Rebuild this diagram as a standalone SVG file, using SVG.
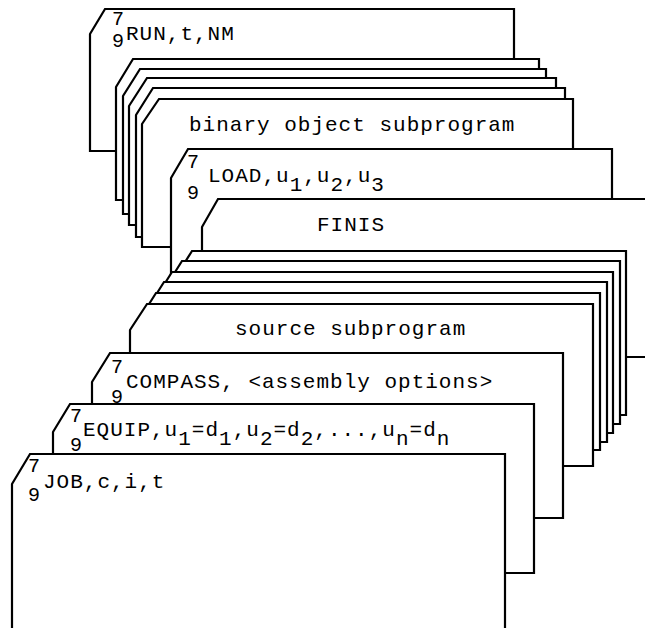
<svg xmlns="http://www.w3.org/2000/svg" width="645" height="628" viewBox="0 0 645 628">
<style>
.card{fill:#fff;stroke:#000;stroke-width:2.2;stroke-linejoin:miter}
text{font-family:"Liberation Mono","DejaVu Sans Mono",monospace;font-size:21px;letter-spacing:1px;fill:#000}
.d{font-size:20px}
</style>
<rect width="645" height="628" fill="#fff"/>
<g id="card-run">
<path class="card" d="M90,151 L90,34 L105,9 L514,9 L514,151 Z"/>
<text class="d" x="112" y="25">7</text><text class="d" x="112" y="47">9</text>
<text x="126" y="40">RUN,t,NM</text>
</g>
<g id="binary-deck">
<path class="card" d="M116,200 L116,87 L133,59 L539,59 L539,200 Z"/>
<path class="card" d="M123,214 L123,96 L140,69 L546,69 L546,214 Z"/>
<path class="card" d="M129,225 L129,106 L147,78 L556,78 L556,225 Z"/>
<path class="card" d="M136,237 L136,115 L153,88 L565,88 L565,237 Z"/>
<path class="card" d="M142,247 L142,124 L159,99 L573,99 L573,247 Z"/>
<text x="189" y="131">binary object subprogram</text>
</g>
<g id="card-load">
<path class="card" d="M171,320 L171,178 L188,149 L612,149 L612,320 Z"/>
<text class="d" x="187" y="168">7</text><text class="d" x="187" y="199">9</text>
<text x="208" y="182">LOAD,u<tspan dy="9">1</tspan><tspan dy="-9">,u</tspan><tspan dy="9">2</tspan><tspan dy="-9">,u</tspan><tspan dy="9">3</tspan></text>
</g>
<g id="card-finis">
<path class="card" d="M202,357 L202,227 L218,199 L660,199 L660,357 Z"/>
<text x="317" y="231">FINIS</text>
</g>
<g id="source-deck">
<path class="card" d="M175,415 L175,278 L192,251 L626,251 L626,415 Z"/>
<path class="card" d="M165,424 L165,288 L182,261 L620,261 L620,424 Z"/>
<path class="card" d="M155,433 L155,299 L172,272 L613,272 L613,433 Z"/>
<path class="card" d="M147,442 L147,309 L164,282 L607,282 L607,442 Z"/>
<path class="card" d="M139,450 L139,320 L156,293 L600,293 L600,450 Z"/>
<path class="card" d="M130,466 L130,330 L147,304 L593,304 L593,466 Z"/>
<text x="235" y="335">source subprogram</text>
</g>
<g id="card-compass">
<path class="card" d="M92,518 L92,382 L110,353 L563,353 L563,518 Z"/>
<text class="d" x="111" y="373">7</text><text class="d" x="111" y="403">9</text>
<text x="126" y="388">COMPASS, &lt;assembly options&gt;</text>
</g>
<g id="card-equip">
<path class="card" d="M53,573 L53,432 L70,404 L534,404 L534,573 Z"/>
<text class="d" x="70" y="422">7</text><text class="d" x="70" y="451">9</text>
<text x="83" y="436">EQUIP,u<tspan dy="9">1</tspan><tspan dy="-9">=d</tspan><tspan dy="9">1</tspan><tspan dy="-9">,u</tspan><tspan dy="9">2</tspan><tspan dy="-9">=d</tspan><tspan dy="9">2</tspan><tspan dy="-9">,...,u</tspan><tspan dy="9">n</tspan><tspan dy="-9">=d</tspan><tspan dy="9">n</tspan></text>
</g>
<g id="card-job">
<path class="card" d="M12,640 L12,484 L30,454 L505,454 L505,640 Z"/>
<text class="d" x="28" y="472">7</text><text class="d" x="28" y="501">9</text>
<text x="43" y="488">JOB,c,i,t</text>
</g>
<g id="connectors"></g>
</svg>
